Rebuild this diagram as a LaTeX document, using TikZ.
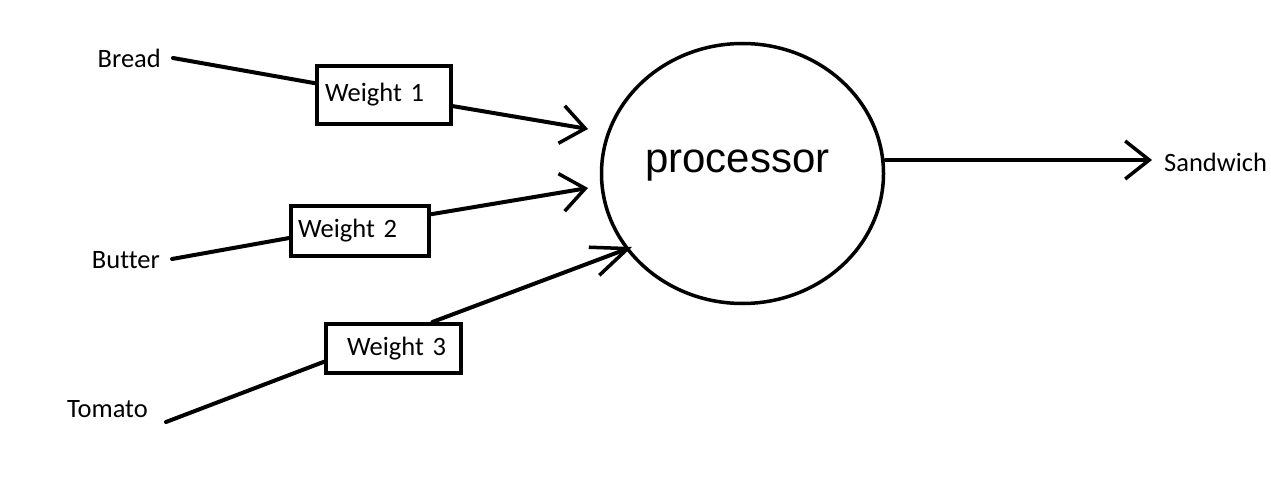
\documentclass[tikz,border=0pt]{standalone}
\usepackage{fontspec}
\setmainfont[Ligatures=NoCommon]{Carlito}
\newfontfamily\procfont{Liberation Sans}
\usetikzlibrary{arrows.meta,shapes.geometric,calc}
\begin{document}
\begin{tikzpicture}[x=1pt,y=-1pt,
  lbl/.style={font=\fontsize{26.5}{30}\selectfont, inner sep=0pt},
  wbox/.style={draw, line width=4pt, font=\fontsize{26.5}{30}\selectfont, align=left, inner ysep=0pt},
  conn/.style={line width=4pt, line cap=round},
  arr/.style={conn, -{Straight Barb[length=24pt,width=38pt,line width=3.5pt]}},
  proc/.style={draw, ellipse, line width=3.5pt, minimum width=282pt, minimum height=260pt, inner sep=0pt}
]
\useasboundingbox (0,0) rectangle (1271,497);
% inputs
\node[lbl, anchor=east] (bread) at (161,58) {Bread};
\node[lbl, anchor=east] (butter) at (160,260) {Butter};
\node[lbl, anchor=east] (tomato) at (148,409) {Tomato};
\node[lbl, anchor=west] (sandwich) at (1164,162) {Sandwich};
% weight boxes
\node[wbox, inner xsep=8pt, text width=118pt, minimum height=58pt] (w1) at (384,95) {Weight 1};
\node[wbox, inner xsep=7pt, text width=124pt, minimum height=50pt] (w2) at (360,231) {Weight 2};
\node[wbox, inner xsep=8pt, text width=119pt, minimum height=49pt] (w3) at (393.5,348.5) {\hspace*{13pt}Weight 3};
% processor
\node[proc] (p) at (742.5,173.5) {};
\node[font=\procfont\fontsize{42}{46}\selectfont, inner sep=0pt, anchor=base west] (ptext) at (645,173) {processor};
% arrow tips
\coordinate (t1) at (588,129);
\coordinate (t2) at (588,188);
\coordinate (t3) at (632,247);
% connectors
\draw[conn] ([xshift=12pt]bread.east) -- ($(w1.north west)!0.31!(w1.south west)$);
\draw[arr] ($(w1.north east)!0.68!(w1.south east)$) -- (t1);
\draw[conn] ([xshift=12pt,yshift=1pt]butter.east) -- ($(w2.north west)!0.63!(w2.south west)$);
\draw[arr] ($(w2.north east)!0.19!(w2.south east)$) -- (t2);
\draw[conn] ([xshift=18pt,yshift=-13pt]tomato.east) -- ($(w3.north west)!0.75!(w3.south west)$);
\draw[line width=4pt, line cap=round, -{Straight Barb[length=36pt,width=30pt,line width=3.5pt]}] ($(w3.north west)!0.78!(w3.north east)$) -- (t3);
\draw[arr, line width=3.5pt] (p.east |- 0,160) -- ([xshift=-12pt]sandwich.west |- 0,160);
\end{tikzpicture}
\end{document}
